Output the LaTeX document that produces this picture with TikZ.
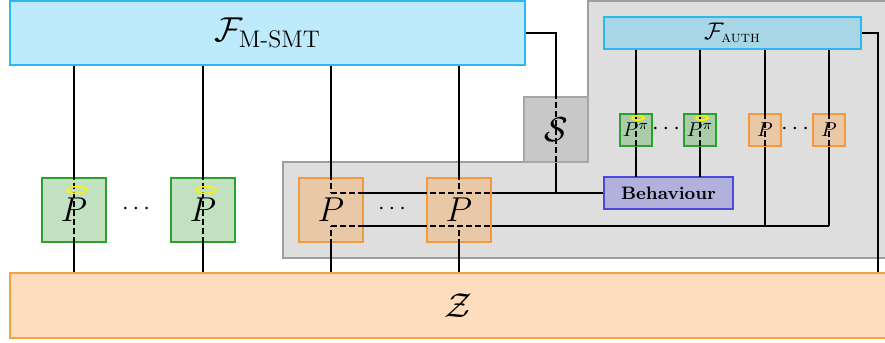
\documentclass[tikz,border=0pt]{standalone}
\usepackage{amsmath}
\usetikzlibrary{calc}

\definecolor{smtfill}{HTML}{BDEBFB}
\definecolor{smtdraw}{HTML}{2EB8F0}
\definecolor{authfill}{HTML}{A7D6E7}
\definecolor{zfill}{HTML}{FDDDBE}
\definecolor{zdraw}{HTML}{F5A340}
\definecolor{hfill}{HTML}{C1E1C1}
\definecolor{hafill}{HTML}{A9CDA9}
\definecolor{hdraw}{HTML}{2CA02C}
\definecolor{cfill}{HTML}{E9C8A8}
\definecolor{cdraw}{HTML}{F19A3E}
\definecolor{bfill}{HTML}{B1B1DC}
\definecolor{bdraw}{HTML}{4B4BDB}
\definecolor{sfill}{HTML}{C8C8C8}
\definecolor{sdraw}{HTML}{A6A6A6}
\definecolor{regfill}{HTML}{DEDEDE}
\definecolor{regdraw}{HTML}{9E9E9E}

\pgfdeclarelayer{back}
\pgfdeclarelayer{under}
\pgfsetlayers{back,under,main}

% all connectors, drawn once below the boxes and once dashed over them
\newcommand{\wiring}[1]{%
  \foreach \p in {gp1,gp2}{\draw[#1] (fmsmt.south -| \p) -- (zz.north -| \p);}
  \foreach \p in {cp1,cp2}{%
    \draw[#1] (fmsmt.south -| \p) -- (\p |- beh.west);
    \draw[#1] (zz.north -| \p) -- (\p |- lowbus);}
  \draw[#1] (cp1 |- beh.west) -- (beh.west);
  \draw[#1] (cp1 |- lowbus) -- (ap2 |- lowbus);
  \draw[#1] (fmsmt.east) -| (sim |- beh.west);
  \draw[#1] (fauth.east) -| (rbus |- zz.north);
  \foreach \p in {hp1,hp2}{\draw[#1] (fauth.south -| \p) -- (beh.north -| \p);}
  \foreach \p in {ap1,ap2}{\draw[#1] (fauth.south -| \p) -- (\p |- lowbus);}
}

\begin{document}
\begin{tikzpicture}[
    x=0.5pt, y=-0.5pt,
    wire/.style={line width=0.7pt, black},
    box/.style={draw, line width=0.6pt, inner sep=0pt},
    bigp/.style={box, minimum size=32pt, font=\LARGE},
    tinyp/.style={box, minimum size=16pt, font=\normalsize},
    halo/.style={draw=yellow, line width=0.8pt},
    dots/.style={font=\large},
  ]
  \useasboundingbox (0,0) rectangle (885,343);

  % --- functionalities and environment ---
  \node[box, fill=smtfill, draw=smtdraw, minimum width=257.5pt, minimum height=32pt,
        font=\LARGE] (fmsmt) at (267.5,33) {$\mathcal{F}_{\text{M-SMT}}$};
  \node[box, fill=zfill, draw=zdraw, minimum width=448pt, minimum height=32.5pt,
        font=\LARGE] (zz) at (458,305.5) {$\mathcal{Z}$};

  % --- shaded region of the simulation ---
  \begin{pgfonlayer}{back}
    \draw[fill=regfill, draw=regdraw, line width=0.6pt]
      (283,162) -- (588,162) -- (588,1) -- (895,1) -- (895,258) -- (283,258) -- cycle;
  \end{pgfonlayer}
  \node[box, fill=sfill, draw=sdraw, minimum width=32pt, minimum height=32.5pt,
        font=\LARGE] (sim) at (556,129.5) {$\mathcal{S}$};

  % --- parties ---
  \node[bigp, fill=hfill, draw=hdraw] (gp1) at (74,210) {$P$};
  \node[bigp, fill=hfill, draw=hdraw] (gp2) at (203,210) {$P$};
  \node[bigp, fill=cfill, draw=cdraw] (cp1) at (331,210) {$P$};
  \node[bigp, fill=cfill, draw=cdraw] (cp2) at (459,210) {$P$};
  \node[dots] (dots1) at (138,209) {$\cdots$};
  \node[dots] (dots2) at (394,209) {$\cdots$};

  % --- authenticated part ---
  \node[box, fill=authfill, draw=smtdraw, minimum width=128.5pt, minimum height=16pt,
        font=\large] (fauth) at (732.5,33) {$\mathcal{F}_{\text{\textsc{auth}}}$};
  \node[tinyp, fill=hafill, draw=hdraw] (hp1) at (636,130) {$P^{\pi}$};
  \node[tinyp, fill=hafill, draw=hdraw] (hp2) at (700,130) {$P^{\pi}$};
  \node[tinyp, fill=cfill, draw=cdraw] (ap1) at (765,130) {$P$};
  \node[tinyp, fill=cfill, draw=cdraw] (ap2) at (829,130) {$P$};
  \node[dots] (dots3) at (668,129) {$\cdots$};
  \node[dots] (dots4) at (797,129) {$\cdots$};
  \node[box, fill=bfill, draw=bdraw, minimum width=64.5pt, minimum height=16pt,
        font=\small\bfseries] (beh) at (668.5,193) {Behaviour};

  \coordinate (lowbus) at (0,226);
  \coordinate (rbus) at (878,0);

  % --- connectors ---
  \begin{pgfonlayer}{under}
    \wiring{wire}
  \end{pgfonlayer}
  \wiring{wire, dash pattern=on 3pt off 1.5pt}

  % --- halos ---
  \foreach \p in {gp1,gp2}
    \draw[halo] ($(\p.center)+(3,-20)$) ellipse (4.8pt and 1.7pt);
  \foreach \p in {hp1,hp2}
    \draw[halo] ($(\p.center)+(2,-12)$) ellipse (3pt and 1.1pt);
\end{tikzpicture}
\end{document}
